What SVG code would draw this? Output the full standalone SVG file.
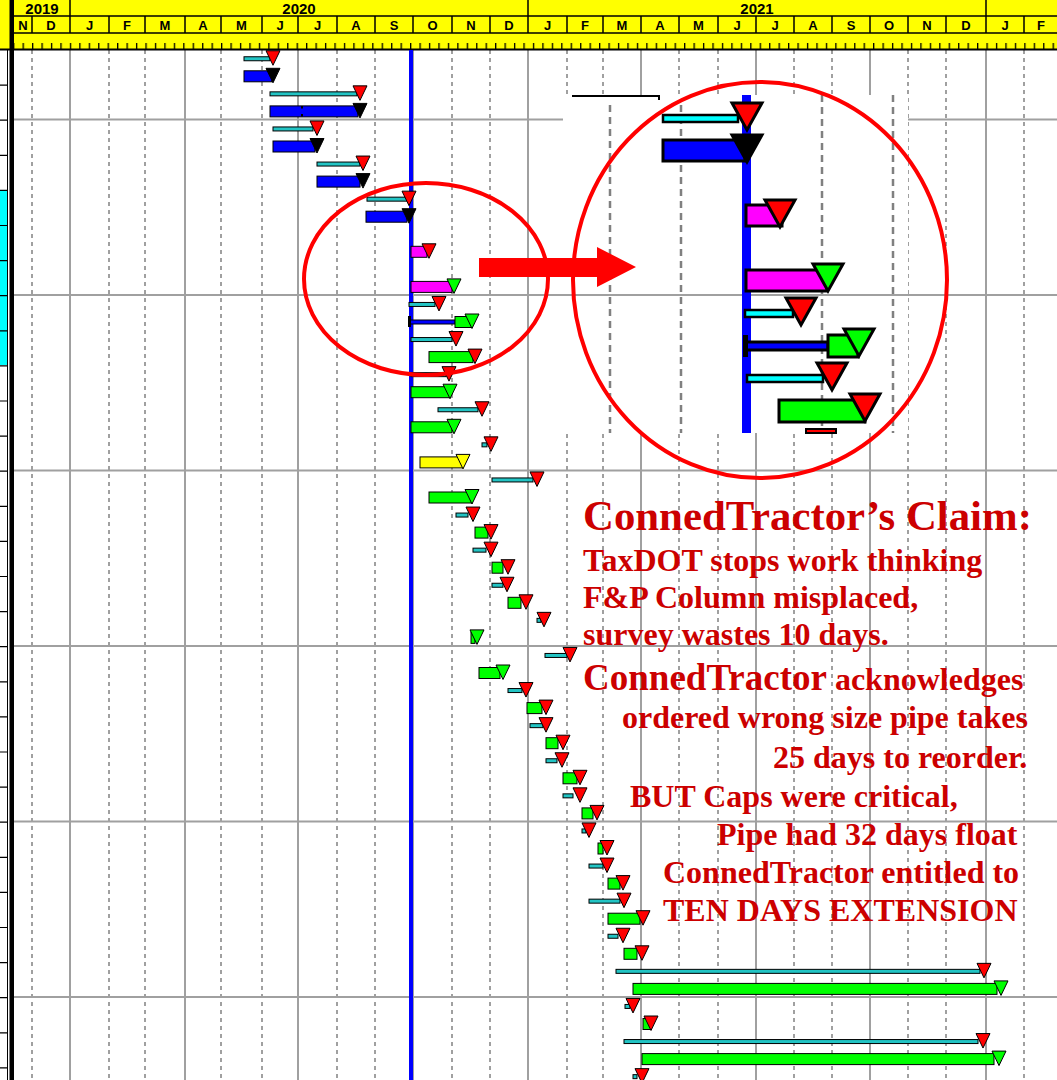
<svg xmlns="http://www.w3.org/2000/svg" xmlns:xlink="http://www.w3.org/1999/xlink" width="1057" height="1080" viewBox="0 0 1057 1080">
<style>
.gs{stroke:#a0a0a0;stroke-width:2;fill:none}
.gd{stroke:#a0a0a0;stroke-width:2;stroke-dasharray:4 4;fill:none}
.hl{stroke:#000;stroke-width:1.5;fill:none}
.yr{font-family:"Liberation Sans",Arial,sans-serif;font-weight:bold;font-size:15px;fill:#000;text-anchor:middle}
.mo{font-family:"Liberation Sans",Arial,sans-serif;font-weight:bold;font-size:13px;fill:#000;text-anchor:middle}
.cy{fill:#22c4c4;stroke:#000;stroke-width:1}
.bl{fill:#0000ff;stroke:#000;stroke-width:1}
.gr{fill:#00ff00;stroke:#000;stroke-width:1}
.mg{fill:#ff00ff;stroke:#000;stroke-width:1}
.ye{fill:#ffff00;stroke:#000;stroke-width:1}
.r{fill:#ff0000;stroke:#000;stroke-width:1}
.k{fill:#000;stroke:#000;stroke-width:1}
.g{fill:#00ff00;stroke:#000;stroke-width:1}
.y{fill:#ffff00;stroke:#000;stroke-width:1}
.ir{fill:#ff0000;stroke:#000;stroke-width:3}
.ik{fill:#000;stroke:#000;stroke-width:3}
.ig{fill:#00ff00;stroke:#000;stroke-width:3}
.icy{fill:#00ffff;stroke:#000;stroke-width:2.5}
.ibl{fill:#0000ff;stroke:#000;stroke-width:3}
.img{fill:#ff00ff;stroke:#000;stroke-width:3}
.igr{fill:#00ff00;stroke:#000;stroke-width:3}
.txt{font-family:"Liberation Serif","Times New Roman",serif;font-weight:bold;fill:#cc0000;font-size:32px}
</style>
<defs>
<path id="t" d="M-7,0H7L0,14.5Z"/>
<path id="T" d="M-15,0H15L0,27Z"/>
<pattern id="tk" x="3.65" y="0" width="9.45" height="50" patternUnits="userSpaceOnUse">
<rect x="0" y="43" width="1.3" height="6" fill="#000"/>
</pattern>
</defs>

<rect x="0" y="0" width="1057" height="1080" fill="#ffffff"/>

<g id="grid">
<g class="gd">
<path d="M32,50V1080M109,50V1080M145,50V1080M221,50V1080M262,50V1080M337,50V1080M375,50V1080M452,50V1080M490,50V1080M567,50V1080M603,50V1080M679,50V1080M718,50V1080M794,50V1080M832,50V1080M908,50V1080M946,50V1080M1024,50V1080"/>
</g>
<g class="gs">
<path d="M70,50V1080M185,50V1080M298,50V1080M413,50V1080M528,50V1080M641,50V1080M756,50V1080M870,50V1080M986,50V1080"/>
<path d="M14,119.5H1057M14,295H1057M14,470.5H1057M14,646H1057M14,821.5H1057M14,997H1057"/>
</g>
</g>

<g id="left-column">
<rect x="0" y="190" width="7.5" height="175" fill="#00ffff"/>
<path d="M0,85.1H8M0,120.2H8M0,155.3H8M0,190.4H8M0,225.5H8M0,260.6H8M0,295.7H8M0,330.8H8M0,365.9H8M0,401H8M0,436.1H8M0,471.2H8M0,506.3H8M0,541.4H8M0,576.5H8M0,611.6H8M0,646.7H8M0,681.8H8M0,716.9H8M0,752H8M0,787.1H8M0,822.2H8M0,857.3H8M0,892.4H8M0,927.5H8M0,962.6H8M0,997.7H8M0,1032.8H8M0,1067.9H8" stroke="#000" stroke-width="1.2" fill="none"/>
<path d="M7.5,0V1080" stroke="#000" stroke-width="1" fill="none"/>
</g>

<g id="header">
<rect x="0" y="0" width="1057" height="50" fill="#ffff00"/>
<rect x="14" y="40" width="1043" height="10" fill="url(#tk)"/>
<path class="hl" d="M14,16H1057M14,33H1057"/>
<path d="M0,49.5H1057" stroke="#000" stroke-width="2" fill="none"/>
<path class="hl" d="M70,0V16M528,0V16M986,0V16"/>
<path class="hl" d="M32,16V33M70,16V33M109,16V33M145,16V33M185,16V33M221,16V33M262,16V33M298,16V33M337,16V33M375,16V33M413,16V33M452,16V33M490,16V33M528,16V33M567,16V33M603,16V33M641,16V33M679,16V33M718,16V33M756,16V33M794,16V33M832,16V33M870,16V33M908,16V33M946,16V33M986,16V33M1024,16V33"/>
<text class="yr" x="42" y="14">2019</text>
<text class="yr" x="299" y="14">2020</text>
<text class="yr" x="757" y="14">2021</text>
<g class="mo">
<text x="23" y="30">N</text><text x="51" y="30">D</text><text x="89.5" y="30">J</text><text x="127" y="30">F</text><text x="165" y="30">M</text><text x="203" y="30">A</text><text x="241.5" y="30">M</text><text x="280" y="30">J</text><text x="317.5" y="30">J</text><text x="356" y="30">A</text><text x="394" y="30">S</text><text x="432.5" y="30">O</text><text x="471" y="30">N</text><text x="509" y="30">D</text><text x="547.5" y="30">J</text><text x="585" y="30">F</text><text x="622" y="30">M</text><text x="660" y="30">A</text><text x="698.5" y="30">M</text><text x="737" y="30">J</text><text x="775" y="30">J</text><text x="813" y="30">A</text><text x="851" y="30">S</text><text x="889" y="30">O</text><text x="927" y="30">N</text><text x="966" y="30">D</text><text x="1005" y="30">J</text><text x="1041" y="30">F</text>
</g>
</g>

<g id="data-date-line">
<rect x="409" y="50" width="4" height="1030" fill="#0000ff"/>
</g>

<g id="tasks">
<g id="task-0"><rect class="cy" x="244" y="56.75" width="26" height="4"/><use href="#t" class="r" x="273" y="50.75"/></g>
<g id="task-1"><rect class="bl" x="244" y="70.8" width="28" height="11"/><use href="#t" class="k" x="273" y="68.3"/></g>
<g id="task-2"><rect class="cy" x="270" y="91.85" width="87" height="4"/><use href="#t" class="r" x="360" y="85.85"/></g>
<g id="task-3"><rect class="bl" x="270" y="105.9" width="88" height="11"/><rect x="301" y="106" width="2" height="2.5" fill="#000"/><rect x="301" y="114" width="2" height="2.5" fill="#000"/><use href="#t" class="k" x="360" y="103.4"/></g>
<g id="task-4"><rect class="cy" x="273" y="126.95" width="40" height="4"/><use href="#t" class="r" x="317" y="120.95"/></g>
<g id="task-5"><rect class="bl" x="273" y="141" width="42" height="11"/><use href="#t" class="k" x="317" y="138.5"/></g>
<g id="task-6"><rect class="cy" x="317" y="162.05" width="43" height="4"/><use href="#t" class="r" x="363" y="156.05"/></g>
<g id="task-7"><rect class="bl" x="317" y="176.1" width="43" height="11"/><use href="#t" class="k" x="363" y="173.6"/></g>
<g id="task-8"><rect class="cy" x="367" y="197.15" width="40" height="4"/><use href="#t" class="r" x="409" y="191.15"/></g>
<g id="task-9"><rect class="bl" x="366" y="211.2" width="41" height="11"/><use href="#t" class="k" x="409" y="208.7"/></g>
<g id="task-11"><rect class="mg" x="411" y="246.3" width="16" height="11"/><use href="#t" class="r" x="429" y="243.8"/></g>
<g id="task-13"><rect class="mg" x="411" y="281.4" width="41" height="11"/><use href="#t" class="g" x="454" y="278.9"/></g>
<g id="task-14"><rect class="cy" x="409" y="302.45" width="26" height="4"/><use href="#t" class="r" x="439" y="296.45"/></g>
<g id="task-15"><rect class="bl" x="409" y="320" width="46" height="4"/><rect x="408" y="316" width="3" height="11" fill="#000"/><rect class="gr" x="455" y="316.5" width="17" height="11"/><use href="#t" class="g" x="472" y="314"/></g>
<g id="task-16"><rect class="cy" x="411" y="337.55" width="41" height="4"/><use href="#t" class="r" x="456" y="331.55"/></g>
<g id="task-17"><rect class="gr" x="429" y="351.6" width="44" height="11"/><use href="#t" class="r" x="475" y="349.1"/></g>
<g id="task-18"><rect class="cy" x="411" y="372.65" width="35" height="4"/><use href="#t" class="r" x="449" y="366.65"/></g>
<g id="task-19"><rect class="gr" x="411" y="386.7" width="39" height="11"/><use href="#t" class="g" x="450" y="384.2"/></g>
<g id="task-20"><rect class="cy" x="438" y="407.75" width="40" height="4"/><use href="#t" class="r" x="482" y="401.75"/></g>
<g id="task-21"><rect class="gr" x="411" y="421.8" width="41" height="11"/><use href="#t" class="g" x="454" y="419.3"/></g>
<g id="task-22"><rect class="cy" x="482" y="442.85" width="5" height="4"/><use href="#t" class="r" x="491" y="436.85"/></g>
<g id="task-23"><rect class="ye" x="420" y="456.9" width="43" height="11"/><use href="#t" class="y" x="463" y="454.4"/></g>
<g id="task-24"><rect class="cy" x="492" y="477.95" width="41" height="4"/><use href="#t" class="r" x="537" y="471.95"/></g>
<g id="task-25"><rect class="gr" x="429" y="492" width="43" height="11"/><use href="#t" class="g" x="472" y="489.5"/></g>
<g id="task-26"><rect class="cy" x="456" y="513.05" width="12" height="4"/><use href="#t" class="r" x="473" y="507.05"/></g>
<g id="task-27"><rect class="gr" x="475" y="527.1" width="13" height="11"/><use href="#t" class="r" x="491" y="524.6"/></g>
<g id="task-28"><rect class="cy" x="473" y="548.15" width="13" height="4"/><use href="#t" class="r" x="491" y="542.15"/></g>
<g id="task-29"><rect class="gr" x="492" y="562.2" width="11" height="11"/><use href="#t" class="r" x="508" y="559.7"/></g>
<g id="task-30"><rect class="cy" x="492" y="583.25" width="11" height="4"/><use href="#t" class="r" x="507" y="577.25"/></g>
<g id="task-31"><rect class="gr" x="508" y="597.3" width="13" height="11"/><use href="#t" class="r" x="526" y="594.8"/></g>
<g id="task-32"><rect class="cy" x="537" y="618.35" width="4" height="4"/><use href="#t" class="r" x="544" y="612.35"/></g>
<g id="task-33"><rect class="gr" x="471" y="632.4" width="4" height="11"/><use href="#t" class="g" x="477" y="629.9"/></g>
<g id="task-34"><rect class="cy" x="545" y="653.45" width="22" height="4"/><use href="#t" class="r" x="570" y="647.45"/></g>
<g id="task-35"><rect class="gr" x="479" y="667.5" width="21" height="11"/><use href="#t" class="g" x="503" y="665"/></g>
<g id="task-36"><rect class="cy" x="508" y="688.55" width="14" height="4"/><use href="#t" class="r" x="526" y="682.55"/></g>
<g id="task-37"><rect class="gr" x="527" y="702.6" width="15" height="11"/><use href="#t" class="r" x="546" y="700.1"/></g>
<g id="task-38"><rect class="cy" x="530" y="723.65" width="13" height="4"/><use href="#t" class="r" x="546" y="717.65"/></g>
<g id="task-39"><rect class="gr" x="546" y="737.7" width="12" height="11"/><use href="#t" class="r" x="563" y="735.2"/></g>
<g id="task-40"><rect class="cy" x="546" y="758.75" width="11" height="4"/><use href="#t" class="r" x="562" y="752.75"/></g>
<g id="task-41"><rect class="gr" x="563" y="772.8" width="14" height="11"/><use href="#t" class="r" x="580" y="770.3"/></g>
<g id="task-42"><rect class="cy" x="563" y="793.85" width="10" height="4"/><use href="#t" class="r" x="580" y="787.85"/></g>
<g id="task-43"><rect class="gr" x="582" y="807.9" width="11" height="11"/><use href="#t" class="r" x="597" y="805.4"/></g>
<g id="task-44"><rect class="cy" x="582" y="828.95" width="4" height="4"/><use href="#t" class="r" x="589" y="822.95"/></g>
<g id="task-45"><rect class="gr" x="598" y="843" width="5" height="11"/><use href="#t" class="r" x="607" y="840.5"/></g>
<g id="task-46"><rect class="cy" x="589" y="864.05" width="14" height="4"/><use href="#t" class="r" x="607" y="858.05"/></g>
<g id="task-47"><rect class="gr" x="608" y="878.1" width="12" height="11"/><use href="#t" class="r" x="623" y="875.6"/></g>
<g id="task-48"><rect class="cy" x="589" y="899.15" width="31" height="4"/><use href="#t" class="r" x="624" y="893.15"/></g>
<g id="task-49"><rect class="gr" x="608" y="913.2" width="32" height="11"/><use href="#t" class="r" x="643" y="910.7"/></g>
<g id="task-50"><rect class="cy" x="608" y="934.25" width="10" height="4"/><use href="#t" class="r" x="623" y="928.25"/></g>
<g id="task-51"><rect class="gr" x="624" y="948.3" width="13" height="11"/><use href="#t" class="r" x="642" y="945.8"/></g>
<g id="task-52"><rect class="cy" x="616" y="969.35" width="364" height="4"/><use href="#t" class="r" x="984" y="963.35"/></g>
<g id="task-53"><rect class="gr" x="633" y="983.4" width="364" height="11"/><use href="#t" class="g" x="1001" y="980.9"/></g>
<g id="task-54"><rect class="cy" x="625" y="1004.45" width="5" height="4"/><use href="#t" class="r" x="633" y="998.45"/></g>
<g id="task-55"><rect class="gr" x="643" y="1018.5" width="8" height="11"/><use href="#t" class="r" x="651" y="1016"/></g>
<g id="task-56"><rect class="cy" x="624" y="1039.55" width="354" height="4"/><use href="#t" class="r" x="983" y="1033.55"/></g>
<g id="task-57"><rect class="gr" x="642" y="1053.6" width="352" height="11"/><use href="#t" class="g" x="999" y="1051.1"/></g>
<g id="task-58"><rect class="cy" x="633" y="1074.65" width="4" height="4"/><use href="#t" class="r" x="642" y="1068.65"/></g>
</g>

<g id="claim-text" class="txt">
<text x="583" y="530" font-size="42.8">ConnedTractor’s Claim:</text>
<text x="583" y="571">TaxDOT stops work thinking</text>
<text x="583" y="608">F&amp;P Column misplaced,</text>
<text x="583" y="645">survey wastes 10 days.</text>
<text x="583" y="690"><tspan font-size="37">ConnedTractor</tspan> acknowledges</text>
<text x="622" y="728">ordered wrong size pipe takes</text>
<text x="773" y="768">25 days to reorder.</text>
<text x="630" y="807">BUT Caps were critical,</text>
<text x="717" y="845">Pipe had 32 days float</text>
<text x="663" y="883">ConnedTractor entitled to</text>
<text x="663" y="921">TEN DAYS EXTENSION</text>
</g>

<g id="focus-ellipse">
<ellipse cx="426" cy="279" rx="122" ry="96" fill="none" stroke="#ff0000" stroke-width="4"/>
</g>

<g id="magnified-inset">
<rect x="563" y="95" width="345" height="338" fill="#ffffff"/>
<path d="M572,96H659V100" stroke="#000" stroke-width="2" fill="none"/>
<path d="M610,105V433M681,105V433M822,95V433M893,95V433" stroke="#808080" stroke-width="2.5" stroke-dasharray="7 5" fill="none"/>
<path d="M563,295H908" stroke="#a0a0a0" stroke-width="2" fill="none"/>
<rect x="742" y="95" width="9" height="338" fill="#0000ff"/>
<rect class="icy" x="663" y="115" width="75" height="7"/>
<use href="#T" class="ir" x="747" y="103"/>
<rect class="ibl" x="663" y="140" width="82" height="21"/>
<use href="#T" class="ik" x="747" y="135"/>
<rect class="img" x="746" y="205" width="36" height="21"/>
<use href="#T" class="ir" x="780" y="200"/>
<rect class="img" x="746" y="270" width="81" height="21"/>
<use href="#T" class="ig" x="828" y="264"/>
<rect class="icy" x="745" y="310" width="48" height="7"/>
<use href="#T" class="ir" x="801" y="298"/>
<rect class="ibl" x="745" y="342" width="83" height="8"/>
<rect x="743" y="335" width="5" height="22" fill="#000"/>
<rect class="igr" x="828" y="335" width="30" height="22"/>
<use href="#T" class="ig" x="859" y="329"/>
<rect class="icy" x="747" y="375" width="76" height="7"/>
<use href="#T" class="ir" x="832" y="363"/>
<rect class="igr" x="779" y="400" width="86" height="22"/>
<use href="#T" class="ir" x="865" y="394"/>
<rect x="806" y="429" width="30" height="4" fill="#ff0000" stroke="#000" stroke-width="2"/>
</g>

<g id="zoom-circle">
<ellipse cx="760" cy="280" rx="187" ry="198" fill="none" stroke="#ff0000" stroke-width="4"/>
</g>

<g id="connectors">
<polygon points="479,258 597,258 597,247 636,267 597,287 597,277 479,277" fill="#ff0000"/>
</g>

<rect x="9.5" y="0" width="4.5" height="1080" fill="#000"/>
</svg>
